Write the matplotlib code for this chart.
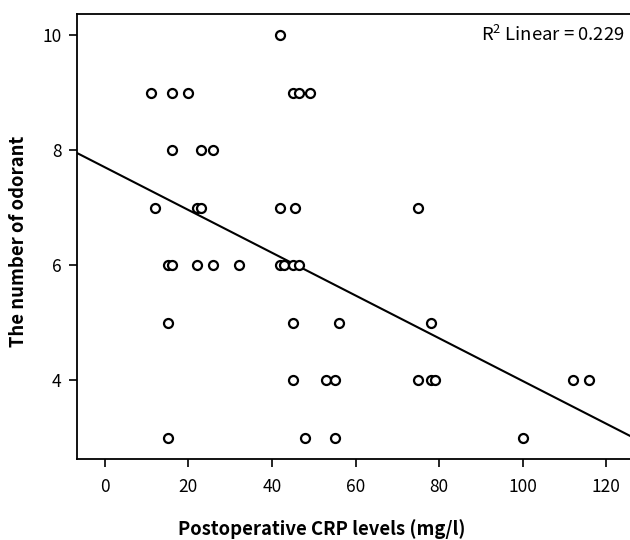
import matplotlib
matplotlib.use('Agg')
import matplotlib.pyplot as plt
import numpy as np

plt.rcParams['font.family'] = ['Noto Sans CJK JP', 'DejaVu Sans']
plt.rcParams['mathtext.fontset'] = 'custom'
plt.rcParams['mathtext.rm'] = 'Noto Sans CJK JP'

# CRP levels (mg/l) and number of odorants
crp = [42,
       11, 16, 20, 45, 46.5, 49,
       16, 23, 26,
       12, 22, 23, 42, 45.5, 75,
       15, 16, 22, 26, 32, 42, 43, 45, 46.5,
       15, 45, 56, 78,
       45, 53, 55, 75, 78, 79, 112, 116,
       15, 48, 55, 100]
odorant = [10,
           9, 9, 9, 9, 9, 9,
           8, 8, 8,
           7, 7, 7, 7, 7, 7,
           6, 6, 6, 6, 6, 6, 6, 6, 6,
           5, 5, 5, 5,
           4, 4, 4, 4, 4, 4, 4, 4,
           3, 3, 3, 3]
r2_text = 'R$^2$ Linear = 0.229'

fig = plt.figure(figsize=(6.3, 5.4), dpi=100)
ax = fig.add_axes([0.122, 0.15, 0.878, 0.824])

ax.scatter(crp, odorant, s=42, facecolors='white', edgecolors='black',
           linewidths=1.6, zorder=3)

slope, intercept = np.polyfit(crp, odorant, 1)
xs = np.array([-6.7, 126])
ax.plot(xs, intercept + slope * xs, color='black', lw=1.5)

ax.set_xlim(-6.7, 125.7)
ax.set_ylim(2.63, 10.37)
ax.set_xticks([0, 20, 40, 60, 80, 100, 120])
ax.set_yticks([4, 6, 8, 10])
ax.tick_params(labelsize=12.5, length=6, width=1.2, direction='out', pad=5)
ax.tick_params(axis='x', pad=8)
for s in ax.spines.values():
    s.set_linewidth(1.3)
ax.spines['right'].set_visible(False)

ax.set_xlabel('Postoperative CRP levels (mg/l)', fontsize=13.3,
              fontweight='semibold')
ax.xaxis.set_label_coords(0.443, -0.135)
ax.set_ylabel('The number of odorant', fontsize=13.3, fontweight='semibold')
ax.yaxis.set_label_coords(-0.088, 0.49)
ax.text(0.99, 0.953, r2_text, transform=ax.transAxes, ha='right', va='center',
        fontsize=13.3)

fig.savefig('out.png', dpi=100)
